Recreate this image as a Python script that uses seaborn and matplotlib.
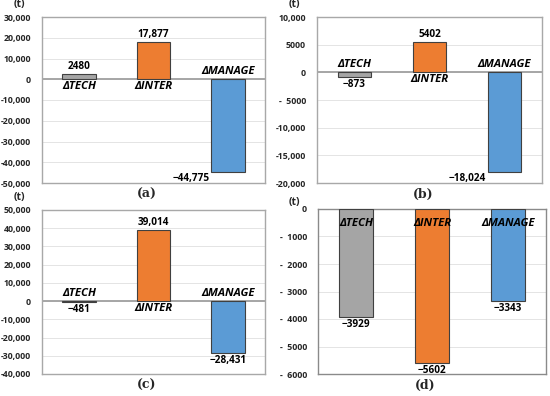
import matplotlib
matplotlib.use("Agg")
import matplotlib.pyplot as plt
import seaborn as sns
import pandas as pd

sns.set_theme(style="white")
plt.rcParams['font.family'] = ['Open Sans', 'DejaVu Sans']

categories = ["ΔTECH", "ΔINTER", "ΔMANAGE"]
colors = ["#A5A5A5", "#ED7D31", "#5B9BD5"]

vals_a = [2480, 17877, -44775]
vals_b = [-873, 5402, -18024]
vals_c = [-481, 39014, -28431]
vals_d = [-3929, -5602, -3343]

value_text_a = ["2480", "17,877", "\u221244,775"]
value_text_b = ["\u2212873", "5402", "\u221218,024"]
value_text_c = ["\u2212481", "39,014", "\u221228,431"]
value_text_d = ["\u22123929", "\u22125602", "\u22123343"]

ticks_a = [30000, 20000, 10000, 0, -10000, -20000, -30000, -40000, -50000]
ticklabels_a = ["30,000", "20,000", "10,000", "0", "-10,000", "-20,000", "-30,000", "-40,000", "-50,000"]
ticks_b = [10000, 5000, 0, -5000, -10000, -15000, -20000]
ticklabels_b = ["10,000", "5000", "0", "-  5000", "-10,000", "-15,000", "-20,000"]
ticks_c = [50000, 40000, 30000, 20000, 10000, 0, -10000, -20000, -30000, -40000]
ticklabels_c = ["50,000", "40,000", "30,000", "20,000", "10,000", "0", "-10,000", "-20,000", "-30,000", "-40,000"]
ticks_d = [0, -1000, -2000, -3000, -4000, -5000, -6000]
ticklabels_d = ["0", "-  1000", "-  2000", "-  3000", "-  4000", "-  5000", "-  6000"]

panel_labels = ["(a)", "(b)", "(c)", "(d)"]

fig = plt.figure(figsize=(5.5, 3.96), dpi=100)
W, H = 550.0, 396.0

def make_ax(x0, x1, ytop, ybot):
    return fig.add_axes([x0 / W, 1 - ybot / H, (x1 - x0) / W, (ybot - ytop) / H])

ax_a = make_ax(42, 265, 17, 183)
ax_b = make_ax(317, 542, 17, 183)
ax_c = make_ax(42, 265, 210, 374)
ax_d = make_ax(318, 546, 209, 374)

panels = [
    (ax_a, vals_a, value_text_a, ticks_a, ticklabels_a, (-50000, 30000)),
    (ax_b, vals_b, value_text_b, ticks_b, ticklabels_b, (-20000, 10000)),
    (ax_c, vals_c, value_text_c, ticks_c, ticklabels_c, (-40000, 50000)),
    (ax_d, vals_d, value_text_d, ticks_d, ticklabels_d, (-6000, 0)),
]

lab_kw = dict(fontsize=8.2, fontweight="bold", fontstyle="italic", color="black")
val_kw = dict(fontsize=7.2, fontweight="bold", color="black")

for i, (ax, vals, vtexts, ticks, tlabels, ylim) in enumerate(panels):
    df = pd.DataFrame({"cat": categories, "val": vals})
    sns.barplot(data=df, x="cat", y="val", hue="cat", palette=colors, saturation=1,
                width=0.45, edgecolor="#404040", linewidth=0.8,
                legend=False, ax=ax, zorder=3)
    ax.set_xlim(-0.5, 2.5)
    ax.set_ylim(*ylim)
    ax.set_yticks(ticks)
    ax.set_yticklabels(tlabels, fontsize=6.3, fontweight="bold")
    ax.set_xticks([])
    ax.set_xlabel("")
    ax.set_ylabel("")
    ax.tick_params(axis="y", length=0, pad=8)
    ax.grid(axis="y", color="#e4e4e4", linewidth=0.7, zorder=0)
    ax.axhline(0, color="#a6a6a6", linewidth=1.4, zorder=2)
    for s in ax.spines.values():
        s.set_color("#a8a8a8" if i < 3 else "#8a8a8a")
        s.set_linewidth(1.0)
    span = ylim[1] - ylim[0]
    d = span * 0.012
    for j, (v, t) in enumerate(zip(vals, vtexts)):
        if i == 3:
            ax.text(j, -span * 0.09, categories[j], ha="center", va="center", zorder=4, **lab_kw)
            ax.text(j, v - d, t, ha="center", va="top", zorder=4, **val_kw)
            continue
        if v >= 0:
            ax.text(j, -d, categories[j], ha="center", va="top", zorder=4, **lab_kw)
            ax.text(j, v + d, t, ha="center", va="bottom", zorder=4, **val_kw)
        else:
            ax.text(j, d, categories[j], ha="center", va="bottom", zorder=4, **lab_kw)
            if j == 2 and i in (0, 1):
                ax.text(j - 0.5, v - d * 0.3, t, ha="center", va="top", zorder=4, **val_kw)
            else:
                ax.text(j, v - d, t, ha="center", va="top", zorder=4, **val_kw)
    if i < 3:
        ax.text(-0.10, 1.045, "(t)", transform=ax.transAxes, ha="center", va="bottom",
                fontsize=7.5, fontweight="bold")
    else:
        ax.text(-0.105, 1.005, "(t)", transform=ax.transAxes, ha="center", va="bottom",
                fontsize=7.5, fontweight="bold")
    ax.text(0.47, -0.03, panel_labels[i], transform=ax.transAxes, ha="center", va="top",
            fontsize=9, family="DejaVu Serif", fontweight="bold")

fig.savefig("out.png", dpi=100)
